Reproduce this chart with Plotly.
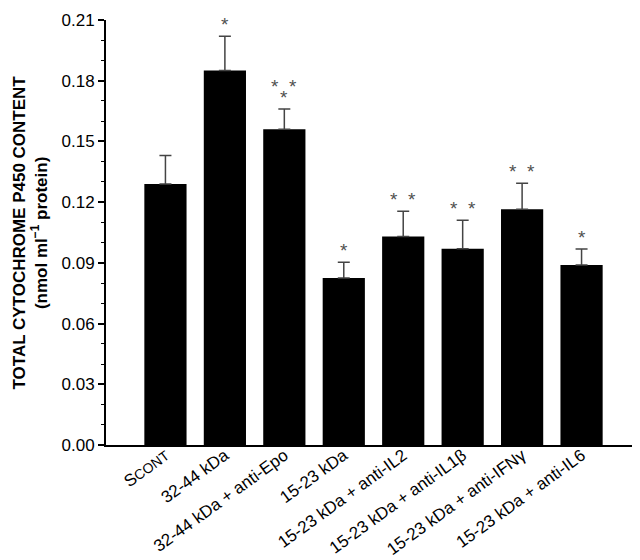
import plotly.graph_objects as go

# dados
categories = [
    "S<span style='font-size:14px'>CONT</span>",
    "32-44 kDa",
    "32-44 kDa + anti-Epo",
    "15-23 kDa",
    "15-23 kDa + anti-IL2",
    "15-23 kDa + anti-IL1β",
    "15-23 kDa + anti-IFNγ",
    "15-23 kDa + anti-IL6",
]
values = [0.129, 0.185, 0.156, 0.0825, 0.103, 0.097, 0.1165, 0.089]
errors = [0.014, 0.017, 0.010, 0.0078, 0.0125, 0.014, 0.0128, 0.0078]
# linhas de asteriscos, de baixo para cima
stars = [[], ["*"], ["*", "* *"], ["*"], ["* *"], ["* *"], ["* *"], ["*"]]

y_ticks = [0.00, 0.03, 0.06, 0.09, 0.12, 0.15, 0.18, 0.21]

FONT = "Liberation Sans, Arial, sans-serif"
xpos = list(range(len(categories)))

fig = go.Figure()

fig.add_trace(
    go.Bar(
        x=xpos,
        y=values,
        width=0.71,
        marker=dict(color="black", line=dict(width=0)),
        error_y=dict(
            type="data",
            symmetric=False,
            array=errors,
            arrayminus=[0] * len(errors),
            color="#444444",
            thickness=1.5,
            width=6,
        ),
        showlegend=False,
    )
)

# asteriscos acima das barras de erro
for i, rows in enumerate(stars):
    for k, s in enumerate(rows):
        fig.add_annotation(
            x=xpos[i],
            y=values[i] + errors[i],
            text=s.replace(" ", "&nbsp;&nbsp;"),
            showarrow=False,
            yanchor="bottom",
            yshift=-1 + 11 * k,
            font=dict(family=FONT, size=19, color="#505050"),
        )

# título do eixo y
fig.add_annotation(
    xref="paper",
    yref="paper",
    x=-0.142,
    y=0.5,
    xanchor="center",
    yanchor="middle",
    textangle=-90,
    showarrow=False,
    text="<b>TOTAL CYTOCHROME P450 CONTENT</b><br><b>(nmol ml<sup>−1</sup> protein)</b>",
    font=dict(family=FONT, size=17, color="black"),
)

fig.update_layout(
    width=640,
    height=560,
    margin=dict(l=98, r=7, t=12, b=123),
    paper_bgcolor="white",
    plot_bgcolor="white",
    bargap=0.3,
)

fig.update_xaxes(
    range=[-1, 8],
    tickmode="array",
    tickvals=xpos,
    ticktext=categories,
    tickangle=-36,
    ticks="",
    ticklabelstandoff=-8,
    automargin=False,
    showline=True,
    linecolor="black",
    linewidth=2,
    showgrid=False,
    zeroline=False,
    tickfont=dict(family=FONT, size=17, color="black"),
)

fig.update_yaxes(
    range=[0, 0.21],
    tickmode="array",
    tickvals=y_ticks,
    ticktext=[f"{v:.2f}" for v in y_ticks],
    ticks="outside",
    ticklen=6,
    tickwidth=1.5,
    tickcolor="black",
    minor=dict(dtick=0.01, ticks="outside", ticklen=3, tickwidth=1, tickcolor="black"),
    automargin=False,
    showline=True,
    linecolor="black",
    linewidth=2,
    showgrid=False,
    zeroline=False,
    tickfont=dict(family=FONT, size=17, color="black"),
)

fig.write_html("out.html")
